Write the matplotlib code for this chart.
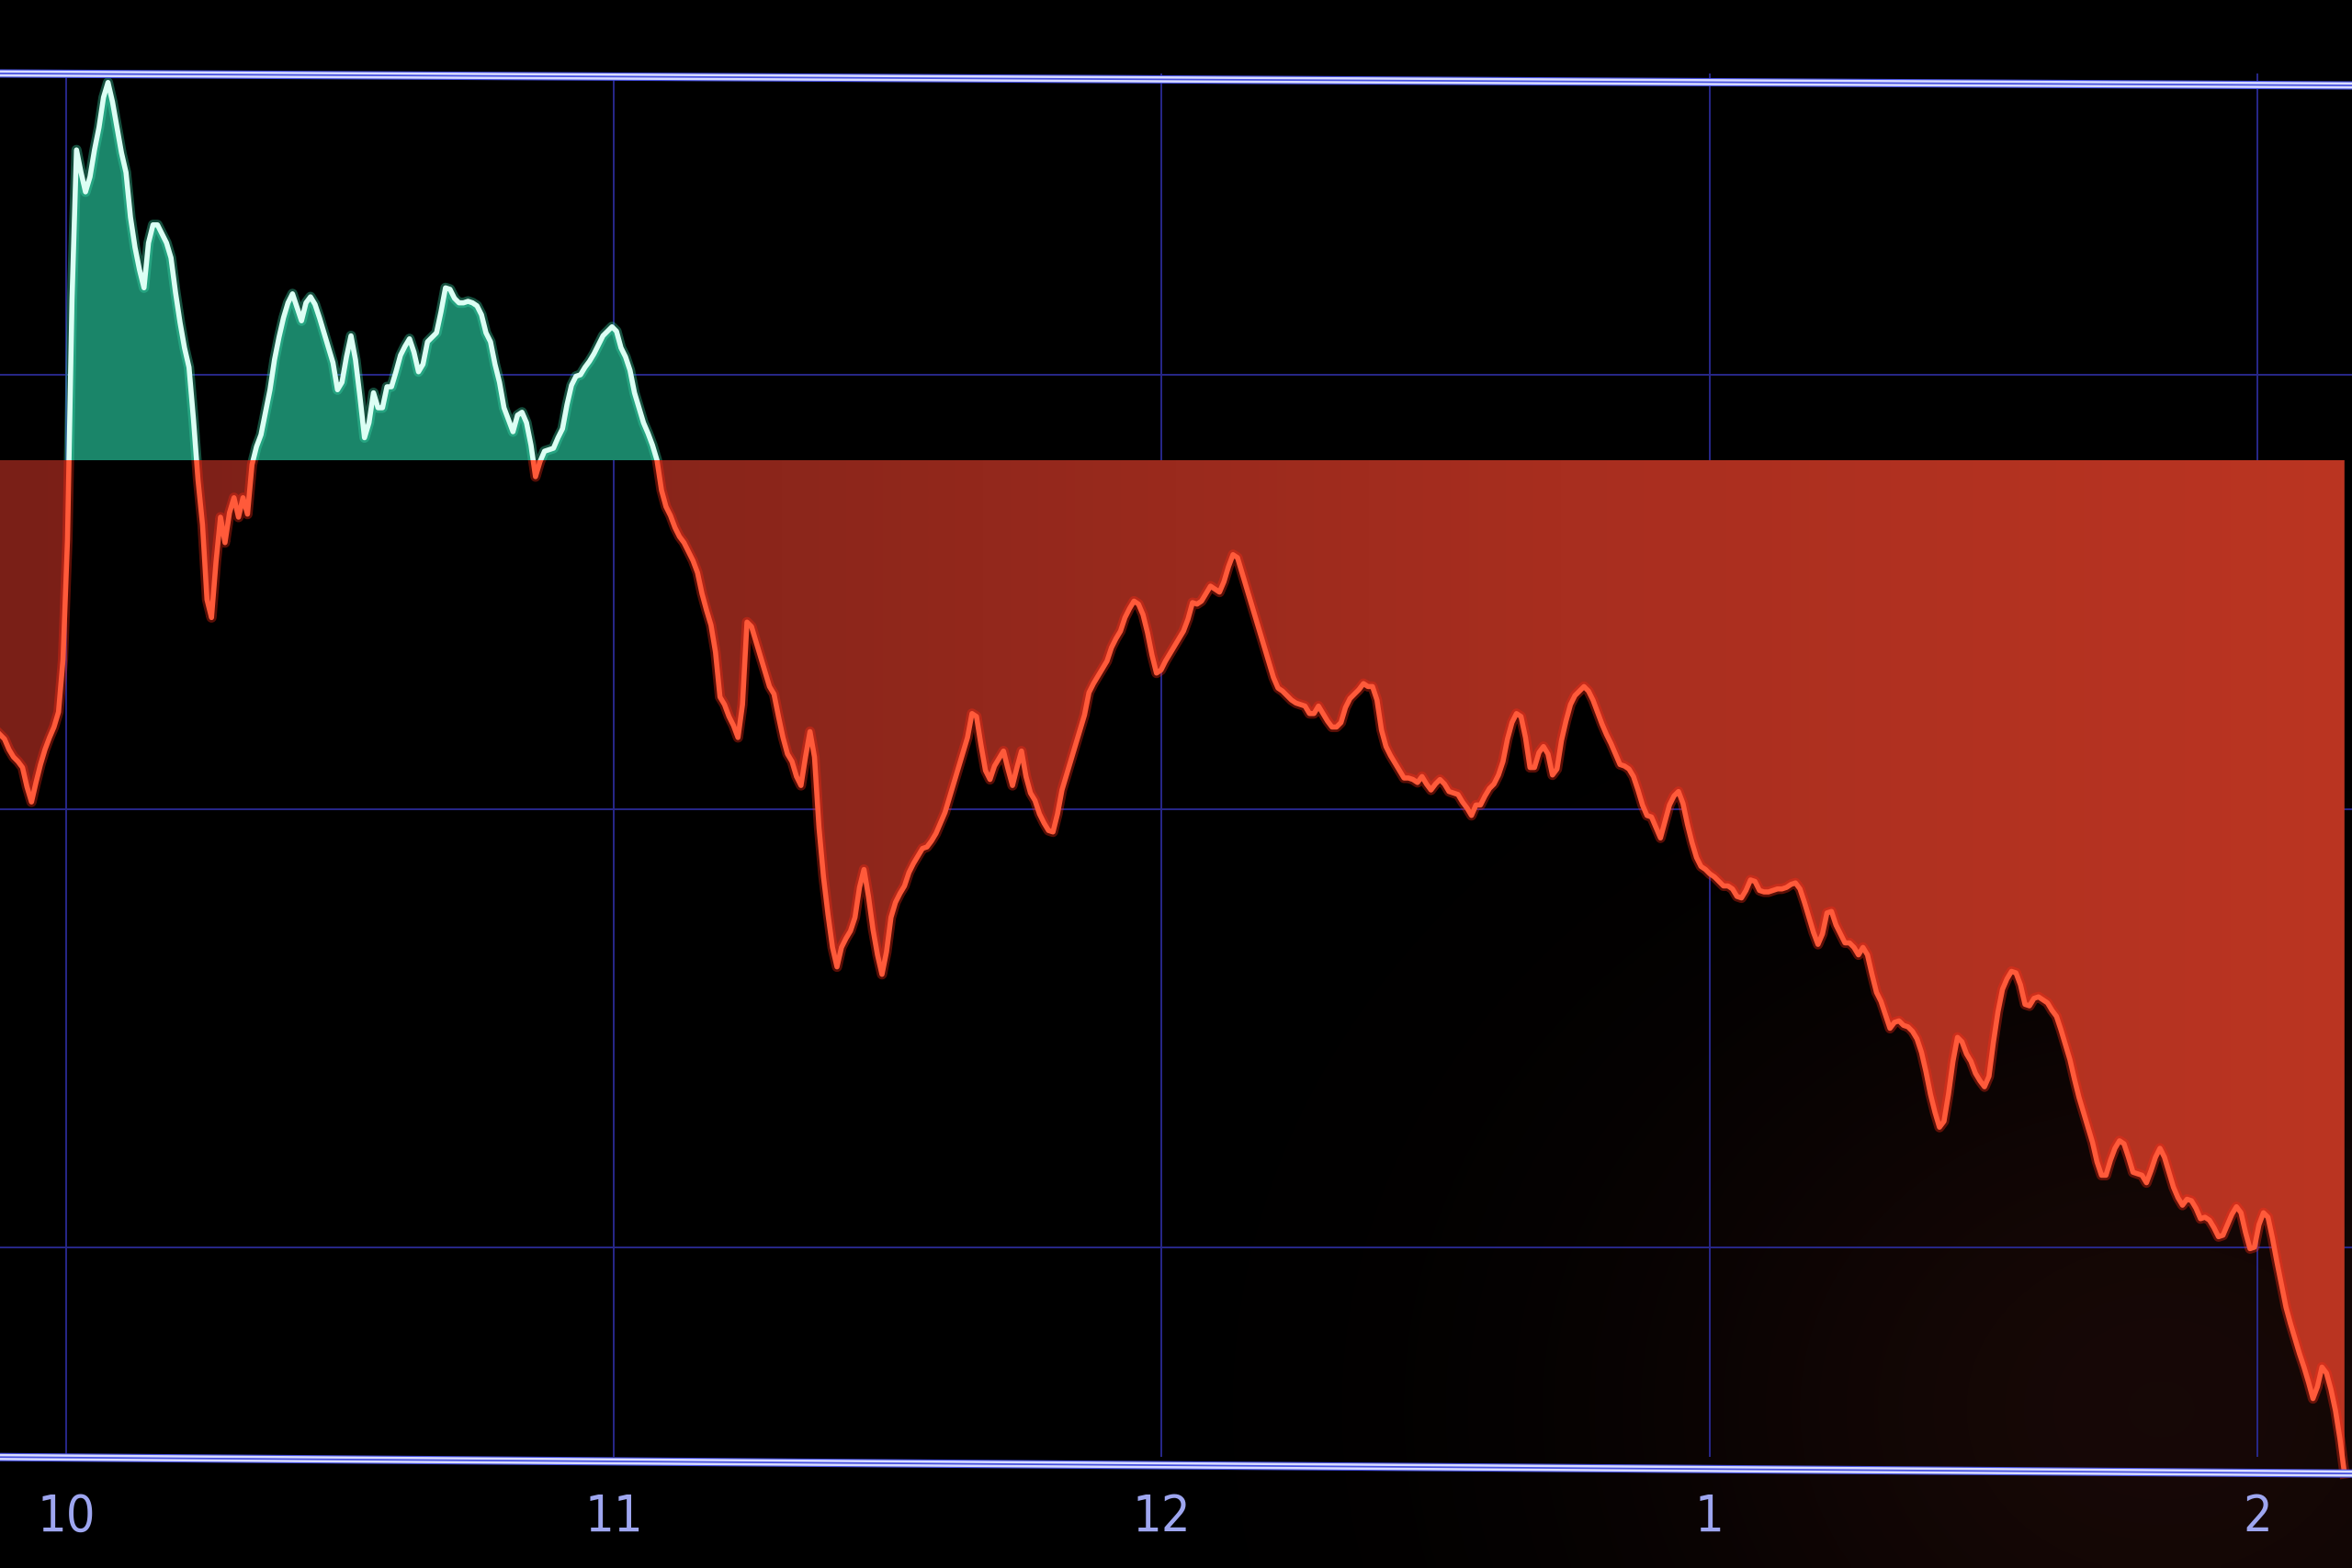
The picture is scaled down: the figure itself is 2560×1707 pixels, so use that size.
import numpy as np
import matplotlib
matplotlib.use("Agg")
import matplotlib.pyplot as plt
from matplotlib.path import Path
from matplotlib.patches import Rectangle
from matplotlib.colors import LinearSegmentedColormap

# ---------------- data ----------------
START_HOUR = 9.8795          # first reading (~9:52:46)
STEP_HOUR = 3 / 365.25       # ~29.6 s between readings

# index change vs previous close (points)
change = [
    -183, -186, -193, -198, -201, -205, -218, -228, -215, -203, -193, -185, -178, -168, -133, -53,
    107, 207, 192, 179, 189, 207, 222, 242, 252, 239, 222, 205, 192, 162, 142, 127,
    115, 145, 157, 157, 151, 145, 135, 112, 92, 75, 62, 27, -13, -43, -93, -105,
    -68, -38, -55, -35, -25, -38, -25, -36, -3, 9, 17, 32, 47, 67, 82, 95,
    105, 111, 102, 93, 105, 109, 104, 95, 85, 75, 65, 47, 52, 69, 83, 67,
    42, 15, 25, 45, 35, 35, 49, 49, 59, 70, 76, 81, 72, 59, 64, 79,
    82, 85, 99, 115, 114, 108, 105, 105, 106, 105, 103, 97, 85, 79, 64, 52,
    35, 27, 19, 30, 32, 25, 10, -11, -1, 6, 7, 8, 15, 21, 37, 50,
    56, 57, 62, 66, 71, 77, 83, 86, 89, 86, 75, 69, 60, 45, 35, 25,
    18, 10, 0, -20, -31, -37, -45, -51, -55, -61, -67, -75, -89, -100, -110, -128,
    -158, -163, -171, -177, -185, -163, -108, -111, -121, -131, -141, -151, -156, -171, -185, -196,
    -201, -211, -217, -198, -181, -198, -245, -278, -303, -325, -338, -325, -319, -314, -305, -285,
    -273, -291, -313, -330, -343, -328, -305, -295, -289, -284, -275, -269, -264, -259, -258, -254,
    -249, -242, -235, -225, -215, -205, -195, -185, -169, -171, -190, -207, -213, -204, -199, -194,
    -206, -217, -205, -194, -211, -222, -227, -236, -242, -247, -248, -236, -220, -210, -200, -190,
    -180, -170, -155, -149, -144, -139, -134, -125, -119, -114, -105, -99, -94, -96, -103, -115,
    -130, -142, -140, -134, -129, -124, -119, -114, -106, -95, -96, -94, -89, -84, -86, -88,
    -81, -71, -63, -65, -75, -85, -95, -105, -115, -125, -135, -145, -152, -154, -157, -160,
    -162, -163, -164, -169, -169, -164, -169, -174, -178, -178, -175, -165, -159, -156, -153, -149,
    -151, -151, -160, -180, -191, -197, -202, -207, -212, -212, -213, -215, -211, -216, -220, -216,
    -213, -216, -221, -222, -223, -228, -232, -237, -230, -230, -224, -219, -216, -210, -201, -186,
    -175, -169, -171, -185, -205, -205, -195, -191, -196, -210, -206, -187, -174, -163, -157, -154,
    -151, -154, -160, -168, -176, -183, -189, -196, -203, -204, -206, -211, -220, -230, -237, -238,
    -245, -252, -241, -230, -224, -221, -229, -243, -255, -265, -271, -273, -276, -278, -281, -284,
    -284, -286, -291, -292, -287, -280, -281, -287, -288, -288, -287, -286, -286, -285, -283, -282,
    -286, -295, -305, -315, -323, -316, -302, -301, -310, -316, -322, -322, -325, -330, -325, -330,
    -343, -355, -361, -370, -379, -375, -374, -377, -378, -381, -386, -395, -408, -423, -435, -445,
    -441, -423, -401, -385, -388, -396, -401, -409, -414, -418, -411, -388, -368, -353, -346, -341,
    -342, -350, -363, -364, -359, -358, -360, -362, -367, -371, -380, -390, -400, -413, -425, -435,
    -445, -455, -468, -477, -477, -467, -459, -454, -456, -465, -475, -476, -477, -482, -474, -465,
    -459, -465, -475, -485, -492, -497, -493, -494, -499, -506, -505, -507, -512, -518, -517, -510,
    -503, -498, -502, -515, -526, -525, -510, -502, -505, -519, -535, -550, -565, -576, -586, -596,
    -605, -615, -626, -618, -605, -609, -620, -634, -653, -676,
]

hour_ticks = [10, 11, 12, 13, 14]
hour_labels = ["10", "11", "12", "1", "2"]
grid_levels = [57, -233, -525]
frame_top = [258, 250]        # level of top rule at left / right edge
frame_bottom = [-665, -676]   # level of bottom rule at left / right edge
label_level = -705

X_LEFT, X_RIGHT = 9.8795, 14.1725
Y_BOTTOM, Y_TOP = -739, 307

# ---------------- figure ----------------
t = START_HOUR + STEP_HOUR * np.arange(len(change))
v = np.array(change, dtype=float)

fig = plt.figure(figsize=(25.6, 17.07), dpi=100, facecolor="black")
ax = fig.add_axes([0, 0, 1, 1])
ax.set_facecolor("black")
ax.axis("off")

# faint reddish glow of the screen in the lower right
gx = np.linspace(0, 1, 400)[None, :]
gy = np.linspace(0, 1, 300)[:, None]
glow = np.exp(-((gx - 0.92) ** 2 / 0.05 + (gy - 0.10) ** 2 / 0.08)) * 0.09
bg = np.dstack([glow * 1.0, glow * 0.35, glow * 0.28])
ax.imshow(bg, extent=[X_LEFT, X_RIGHT, Y_BOTTOM, Y_TOP], origin="lower",
          aspect="auto", zorder=0, interpolation="bilinear")

# grid
grid_col = "#28288a"
for lvl in grid_levels:
    ax.axhline(lvl, color=grid_col, lw=1.4, zorder=1)
ax.vlines(hour_ticks, frame_bottom[0], frame_top[0], color=grid_col, lw=1.4, zorder=1)

# green fill above previous close
ax.fill_between(t, 0, v, where=v >= 0, interpolate=True, color="#1a8569", lw=0, zorder=2)

# red gradient fill below previous close
poly = ax.fill_between(t, 0, v, where=v <= 0, interpolate=True, facecolor="none", lw=0, zorder=2)
clip = Path.make_compound_path(*poly.get_paths())
grad = np.linspace(0, 1, 512).reshape(1, -1)
cmap = LinearSegmentedColormap.from_list("redgrad", ["#7a1f17", "#8c261b", "#a82e1f", "#bb3522"])
im = ax.imshow(grad, extent=[X_LEFT, X_RIGHT, Y_BOTTOM, 0], origin="lower",
               aspect="auto", cmap=cmap, zorder=2, interpolation="bilinear")
im.set_clip_path(clip, transform=ax.transData)

# price line: green above, red below
above = Rectangle((X_LEFT - 1, 0), 10, 2000, transform=ax.transData)
below = Rectangle((X_LEFT - 1, -2000), 10, 2000, transform=ax.transData)
for core, halo, region in [("#dcfff4", "#3fe0b0", above), ("#ff5a3a", "#ff2a14", below)]:
    l1, = ax.plot(t, v, color=halo, lw=8, alpha=0.35, zorder=3, solid_joinstyle="round")
    l2, = ax.plot(t, v, color=core, lw=4, zorder=4, solid_joinstyle="round")
    l1.set_clip_path(region)
    l2.set_clip_path(region)

# double rules at top and bottom
for lv in (frame_top, frame_bottom):
    ax.plot([X_LEFT, X_RIGHT], lv, color="#4650e0", lw=6.5, zorder=6, solid_capstyle="butt")
    for off in (1.3, -1.3):
        ax.plot([X_LEFT, X_RIGHT], [lv[0] + off, lv[1] + off], color="#d8dcff", lw=1.8, zorder=7)

# hour labels
for h, lab in zip(hour_ticks, hour_labels):
    ax.text(h, label_level, lab, color="#9ea6f0", fontsize=40, ha="center", va="center",
            family=["Liberation Sans Narrow", "DejaVu Sans"], fontstretch="condensed", zorder=6)

ax.set_xlim(X_LEFT, X_RIGHT)
ax.set_ylim(Y_BOTTOM, Y_TOP)

fig.savefig("out.png", dpi=100, facecolor="black")
